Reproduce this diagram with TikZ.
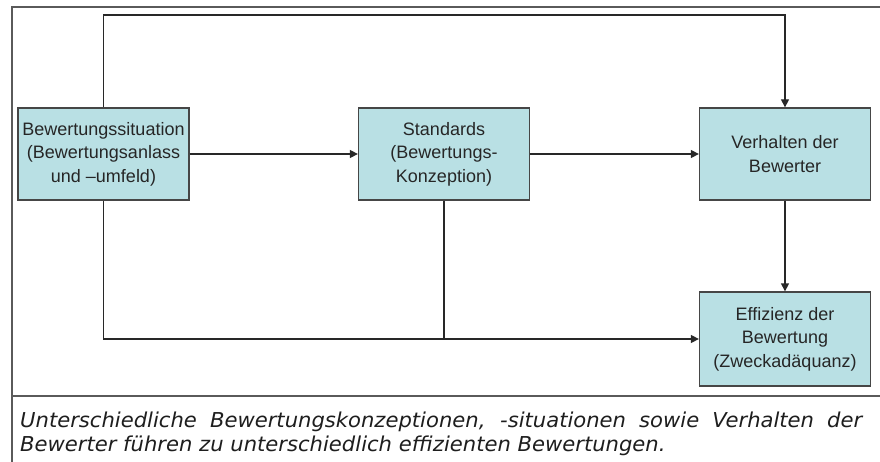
\documentclass[tikz,border=0pt]{standalone}
\usepackage{fontspec}
\setmainfont{Liberation Sans}
\newfontfamily\capfont[FakeStretch=1.03]{DejaVu Sans}
\usetikzlibrary{arrows.meta}
\definecolor{boxfill}{RGB}{185,224,228}
\definecolor{boxline}{RGB}{70,70,70}
\definecolor{connline}{RGB}{40,40,40}
\definecolor{frameline}{RGB}{90,90,90}
\definecolor{captext}{RGB}{30,30,30}
\tikzset{
  boxnode/.style={draw=boxline, line width=1.3pt, fill=boxfill, minimum width=171pt, minimum height=92pt, inner sep=0pt, align=center, font=\fontsize{18}{23.5}\selectfont, text=black!85},
  conn/.style={draw=connline, line width=1.3pt},
  arr/.style={conn, -{Triangle[length=8pt,width=8pt]}},
  frame/.style={draw=frameline, line width=1.3pt},
  captxt/.style={anchor=base west, inner sep=0pt, text=captext, font=\capfont\itshape\fontsize{20.5}{24}\selectfont}
}
\begin{document}
\begin{tikzpicture}[x=1pt,y=-1pt]
\useasboundingbox (0,0) rectangle (880,462);
\fill[white] (0,0) rectangle (880,462);
% frame
\coordinate (f1) at (12,462);
\coordinate (f2) at (12,7);
\coordinate (f3) at (880,7);
\coordinate (s1) at (12,396);
\coordinate (s2) at (880,396);
\draw[frame] (f1) -- (f2) -- (f3);
\draw[frame] (s1) -- (s2);
% boxes
\node[boxnode] (b1) at (103.5,154) {Bewertungssituation\\(Bewertungsanlass\\und --umfeld)};
\node[boxnode] (b2) at (444,154) {Standards\\(Bewertungs-\\Konzeption)};
\node[boxnode] (b3) at (785,154) {Verhalten der\\Bewerter};
\node[boxnode, minimum height=94pt] (b4) at (785,339) {Effizienz der\\Bewertung\\(Zweckadäquanz)};
% connectors
\coordinate (tl) at (103.5,15);
\coordinate (tr) at (785,15);
\coordinate (bl) at (103.5,339);
\coordinate (bm) at (444,339);
\draw[arr] (b1.north) -- (tl) -- (tr) -- (b3.north);
\draw[arr] (b1.east) -- (b2.west);
\draw[arr] (b2.east) -- (b3.west);
\draw[arr] (b3.south) -- (b4.north);
\draw[arr] (b1.south) -- (bl) -- (b4.west);
\draw[conn] (b2.south) -- (bm);
% caption
\node[captxt] (cap1) at (20,427) {\makebox[842pt][s]{Unterschiedliche Bewertungskonzeptionen, -situationen sowie Verhalten der}};
\node[captxt] (cap2) at (20,451) {Bewerter führen zu unterschiedlich effizienten Bewertungen.};
\end{tikzpicture}
\end{document}
